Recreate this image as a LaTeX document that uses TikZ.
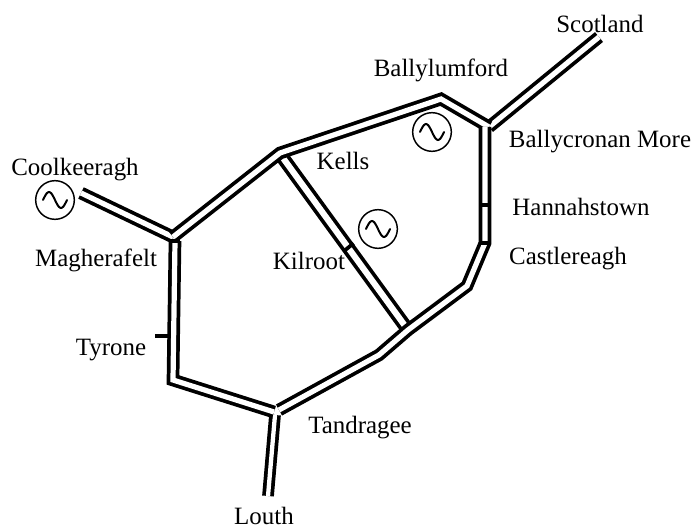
\documentclass[tikz,border=0pt]{standalone}
\usepackage{fontspec}
\setmainfont{Liberation Serif}
\tikzset{
  line/.style={double,line width=2.8pt,double distance=3.9pt,line join=miter},
  place/.style={font=\fontsize{18.7}{22}\selectfont,inner sep=0pt,anchor=base},
  generator/.style={circle,draw,line width=1.1pt,minimum size=29pt,inner sep=0pt,
    path picture={\draw[shift={(path picture bounding box.center)},line width=1.5pt,line cap=round]
      plot[domain=-1:1,smooth,samples=21] ({\x*12},{8*sin(180*\x)});}},
  tick/.style={line width=2.8pt}
}
\begin{document}
\begin{tikzpicture}[x=0.75pt,y=-0.75pt]
  \useasboundingbox (0,0) rectangle (692,527);
  \coordinate (scotland) at (599,37);
  \coordinate (cronan) at (485,127);
  \coordinate (cronan2) at (489,127);
  \coordinate (lumford) at (441,99);
  \coordinate (kells) at (280,153);
  \coordinate (magher) at (173,237);
  \coordinate (magher2) at (175,241);
  \coordinate (coolk) at (81,193);
  \coordinate (tyroneb) at (173,380);
  \coordinate (tandr) at (274,412);
  \coordinate (tandr2) at (279,410);
  \coordinate (tandr3) at (275,415);
  \coordinate (louth) at (268,496);
  \coordinate (bend1) at (379,355);
  \coordinate (kilend) at (408,330);
  \coordinate (bend2) at (467,286);
  \coordinate (castle) at (485,243);
  \coordinate (hann) at (485,205);
  \coordinate (kilstart) at (283,158);
  \coordinate (kiltick) at (349,247);
  \coordinate (tyrtick) at (168,336);
  \coordinate (tyrstub) at (155,336);
  \draw[line] (scotland) -- (cronan2);
  \draw[line] (coolk) -- (magher);
  \draw[line,double distance=3.2pt] (tandr3) -- (louth);
  \draw[line,double distance=4.6pt] (kilstart) -- (kilend);
  \draw[line] (cronan2) -- (lumford) -- (kells) -- (magher);
  \draw[line] (magher2) -- (tyroneb) -- (tandr);
  \draw[line] (tandr2) -- (bend1) -- (kilend) -- (bend2) -- (castle) -- (hann) -- (cronan);
  \draw[tick] (tyrstub) -- (tyrtick);
  \draw[tick] ([xshift=-4pt]magher2) -- ([xshift=4pt]magher2);
  \draw[tick] ([xshift=-4.4pt]hann) -- ([xshift=4.4pt]hann);
  \draw[tick] ([xshift=-4.4pt]castle) -- ([xshift=4.4pt]castle);
  \draw[tick] ([shift={(-3.4pt,-2.8pt)}]kiltick) -- ([shift={(3.4pt,2.8pt)}]kiltick);
  \node[generator] (g1) at (55,200) {};
  \node[generator] (g2) at (432,132) {};
  \node[generator] (g3) at (378,229) {};
  \node[place] (n1) at (75,176) {Coolkeeragh};
  \node[place] (n2) at (96,267) {Magherafelt};
  \node[place] (n3) at (343,170) {Kells};
  \node[place] (n4) at (309,270) {Kilroot};
  \node[place] (n5) at (111,355) {Tyrone};
  \node[place] (n6) at (360,433) {Tandragee};
  \node[place] (n7) at (264,524) {Louth};
  \node[place] (n8) at (568,264) {Castlereagh};
  \node[place] (n9) at (581,216) {Hannahstown};
  \node[place] (n10) at (600,148) {Ballycronan More};
  \node[place] (n11) at (441,77) {Ballylumford};
  \node[place] (n12) at (600,33) {Scotland};
\end{tikzpicture}
\end{document}
